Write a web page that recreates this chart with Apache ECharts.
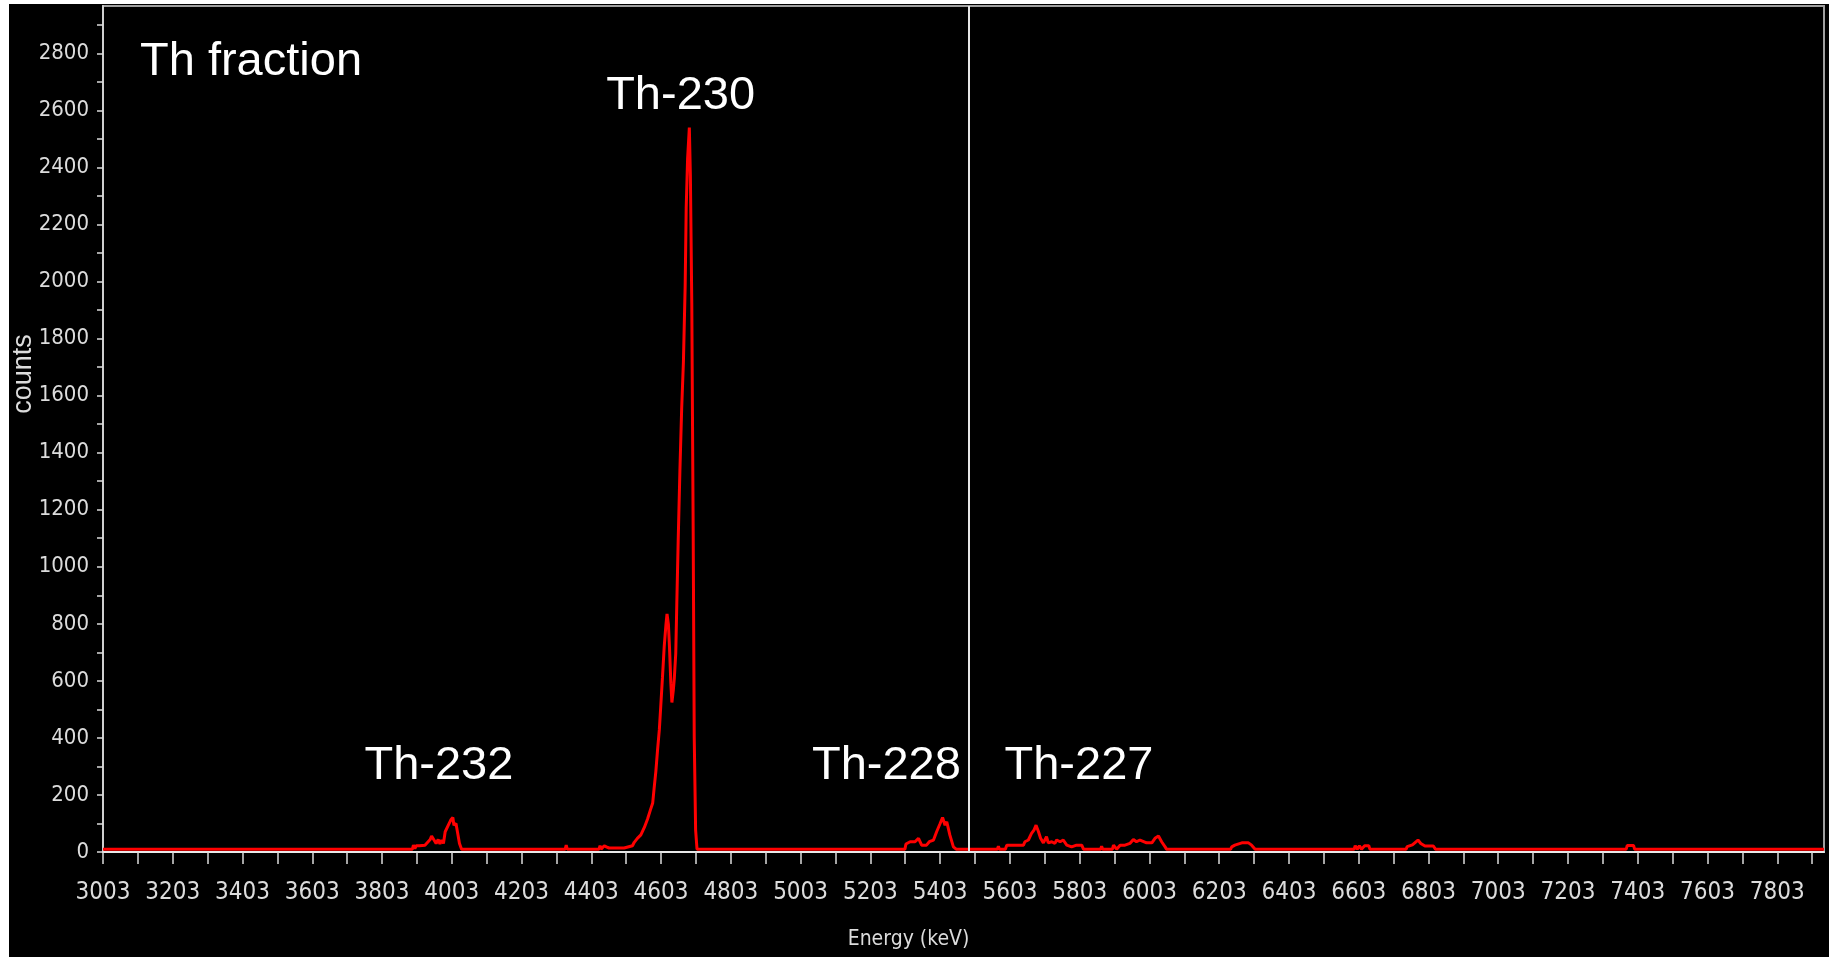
<!DOCTYPE html>
<html>
<head>
<meta charset="utf-8">
<script src="https://cdn.jsdelivr.net/npm/echarts@6/dist/echarts.min.js"></script>
<style>
  html, body { margin: 0; padding: 0; background: #ffffff; width: 1833px; height: 957px; overflow: hidden; }
  #chart { position: absolute; left: 9px; top: 4px; width: 1820px; height: 953px; background: #000000; }
</style>
</head>
<body>
<div id="chart"></div>
<script>
// ---- data (energy in keV, counts) ----
const energyKeV = [
  3003, 3890, 3893, 3897, 3901, 3910, 3926, 3931, 3941, 3945, 3952, 3958, 3964, 3969, 3974, 3979,
  3984, 3993, 4000, 4006, 4009, 4015, 4020, 4025, 4031,
  4328, 4331, 4334,
  4425, 4428, 4431, 4440, 4446, 4454, 4497, 4521, 4526, 4535, 4545, 4555, 4564, 4572, 4579, 4583,
  4588, 4593, 4598, 4602, 4607, 4612, 4617, 4620, 4624, 4627, 4631, 4634, 4638, 4641, 4645, 4648,
  4652, 4657, 4662, 4667, 4672, 4675, 4679, 4684, 4687, 4691, 4695, 4698, 4702, 4706,
  5302, 5305, 5317, 5331, 5341, 5350, 5364, 5372, 5384, 5393, 5403, 5410, 5417, 5422, 5431, 5441, 5449,
  5567, 5570, 5573, 5590, 5594, 5642, 5646, 5656, 5665, 5672, 5678, 5685, 5691, 5699, 5708, 5713,
  5723, 5732, 5737, 5747, 5756, 5766, 5780, 5794, 5809, 5814,
  5863, 5866, 5869, 5897, 5900, 5909, 5919, 5933, 5947, 5957, 5966, 5976, 5995, 6010, 6019, 6029,
  6038, 6048, 6052,
  6236, 6239, 6248, 6268, 6287, 6296, 6306,
  6590, 6593, 6599, 6605, 6611, 6620, 6632, 6635,
  6739, 6742, 6757, 6773, 6781, 6793, 6817, 6823,
  7370, 7373, 7391, 7394,
  7937
];
const counts = [
  10, 10, 24, 12, 22, 22, 24, 30, 44, 56, 42, 30, 44, 28, 42, 30,
  71, 94, 112, 121, 94, 100, 65, 30, 10,
  10, 24, 10,
  10, 22, 10, 22, 18, 14, 14, 22, 34, 48, 60, 86, 115, 146, 172, 223,
  283, 360, 429, 510, 613, 721, 798, 835, 798, 721, 592, 524, 567, 610, 695, 867,
  1090, 1339, 1554, 1717, 1983, 2258, 2430, 2540, 2370, 1923, 1125, 403, 77, 10,
  10, 28, 36, 36, 48, 24, 24, 36, 42, 71, 100, 121, 94, 106, 59, 18, 10,
  10, 20, 10, 10, 24, 24, 36, 42, 65, 77, 94, 71, 48, 32, 54, 32,
  36, 30, 42, 36, 42, 24, 18, 24, 24, 10,
  10, 20, 10, 10, 24, 10, 24, 24, 30, 44, 36, 42, 32, 32, 48, 56,
  36, 18, 10,
  10, 18, 24, 32, 32, 24, 10,
  10, 22, 10, 22, 10, 22, 22, 10,
  10, 19, 25, 42, 30, 21, 21, 10,
  10, 23, 23, 10,
  10
];
// vertical marker line (keV)
const markerEnergy = [5484];
// peak annotations
const peakNames = ['Th-232', 'Th-230', 'Th-228', 'Th-227'];
const peakLabelEnergy = [3966, 4659, 5249, 5801];
const peakLabelCounts = [300, 2650, 300, 300];
// axis settings
const xMin = 3003, xMax = 7937, xStep = 100, xLabelStep = 200;
const yMin = 0, yMax = 2966, yStep = 100, yLabelStep = 200, yLabelTop = 2800;

const spectrum = energyKeV.map((e, i) => [e, counts[i]]);
const annotations = peakNames.map((n, i) => ({ name: n, value: [peakLabelEnergy[i], peakLabelCounts[i]] }));

const labelFont = "'Liberation Sans Narrow', 'DejaVu Sans Condensed', 'Liberation Sans', sans-serif";
const axisGray = '#dcdcdc';

const chart = echarts.init(document.getElementById('chart'), null, { renderer: 'canvas' });
chart.setOption({
  backgroundColor: '#000000',
  animation: false,
  title: {
    text: 'Th fraction',
    left: 126, top: 30,
    textStyle: { color: '#ffffff', fontSize: 47, fontWeight: 'normal', fontFamily: "'Liberation Sans', Arial, sans-serif" }
  },
  grid: {
    left: 94, right: 5, top: 2, bottom: 105,
    containLabel: false,
    outerBoundsMode: 'none',
    show: true, borderColor: '#a0a0a0', borderWidth: 2, backgroundColor: 'transparent'
  },
  xAxis: {
    type: 'value',
    min: xMin, max: xMax, interval: xStep,
    name: 'Energy (keV)', nameLocation: 'middle', nameGap: 77,
    nameTextStyle: { color: axisGray, fontSize: 21, fontFamily: labelFont, padding: [0, 110, 0, 0] },
    axisLine: { onZero: false, lineStyle: { color: '#e8e8e8', width: 2 } },
    axisTick: { show: true, length: 12, lineStyle: { color: axisGray, width: 1.5 } },
    splitLine: { show: false },
    axisLabel: {
      color: axisGray, fontSize: 24, fontFamily: labelFont, margin: 29,
      showMaxLabel: false,
      formatter: v => (Math.round(v - xMin) % xLabelStep === 0 ? String(v) : '')
    }
  },
  yAxis: {
    type: 'value',
    min: yMin, max: yMax, interval: yStep,
    name: 'counts', nameLocation: 'middle', nameGap: 66, nameRotate: 90,
    nameMoveOverlap: false,
    nameTextStyle: { color: axisGray, fontSize: 27, fontFamily: "'Liberation Sans', sans-serif", padding: [0, 0, 0, 110] },
    axisLine: { show: true, lineStyle: { color: '#cfcfcf', width: 2 } },
    axisTick: { show: true, length: 6, lineStyle: { color: axisGray, width: 1.5 } },
    splitLine: { show: false },
    axisLabel: {
      color: axisGray, fontSize: 22, fontFamily: labelFont, margin: 14,
      showMaxLabel: false,
      formatter: v => (v % yLabelStep === 0 && v <= yLabelTop ? String(v) : '')
    }
  },
  series: [
    {
      type: 'line',
      data: spectrum,
      showSymbol: false,
      symbol: 'none',
      lineStyle: { color: '#ff0000', width: 3 },
      z: 3,
      markLine: {
        silent: true,
        symbol: ['none', 'none'],
        label: { show: false },
        lineStyle: { color: '#e6e6e6', width: 2, type: 'solid' },
        data: markerEnergy.map(e => ({ xAxis: e }))
      }
    },
    {
      type: 'scatter',
      data: annotations,
      symbolSize: 0,
      silent: true,
      z: 5,
      itemStyle: { opacity: 1 },
      label: {
        show: true, position: 'inside', opacity: 1,
        formatter: p => p.name,
        color: '#ffffff', fontSize: 47, fontFamily: "'Liberation Sans', Arial, sans-serif"
      }
    }
  ]
});
</script>
</body>
</html>
